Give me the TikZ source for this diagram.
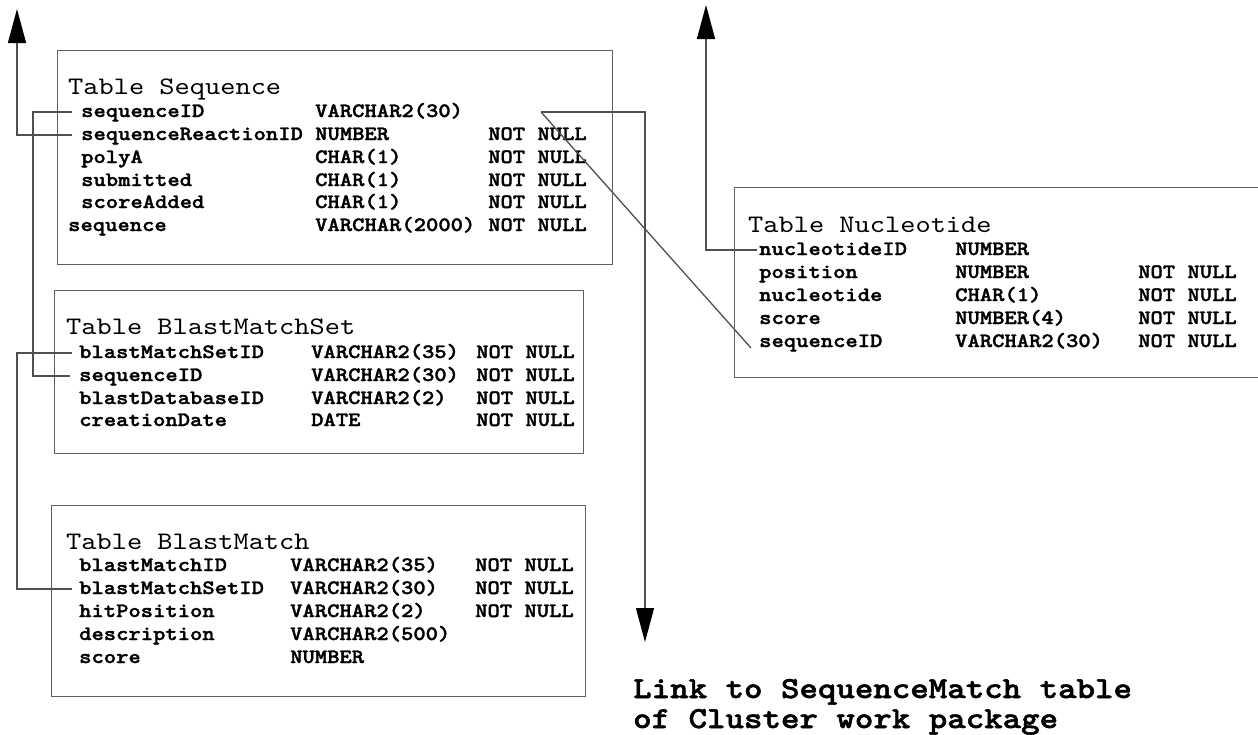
\documentclass[tikz,border=0pt]{standalone}
\usepackage{fontspec}
\newfontfamily\cour{lmmono10-regular.otf}[BoldFont=lmmonolt10-bold.otf, BoldFeatures={FakeBold=1.6}, FakeStretch=1.15]
\usetikzlibrary{arrows.meta}
\definecolor{boxgray}{HTML}{606060}
\definecolor{linegray}{HTML}{505050}
\tikzset{
  fld/.style={anchor=base west, inner sep=0pt, text height=14pt, text depth=4pt,
    font=\cour\bfseries\fontsize{20.4}{24}\selectfont},
  ttl/.style={anchor=base west, inner sep=0pt, font=\cour\fontsize{25.2}{30}\selectfont},
  lnk/.style={anchor=base west, inner sep=0pt, font=\cour\bfseries\fontsize{30.6}{36}\selectfont},
  tbox/.style={draw=boxgray, line width=1.4pt, anchor=north west, inner sep=0pt},
  conn/.style={draw=linegray, line width=1.3pt},
  bigtip/.style={-{Triangle[length=34pt,width=18pt,color=black]}}
}
\begin{document}
\begin{tikzpicture}[x=1pt,y=-1pt]
\useasboundingbox[fill=white] (0,0) rectangle (1258,734);

% ---- Table Sequence
\node[tbox, minimum width=555pt, minimum height=214pt] (boxA) at (57,50) {};
\node[ttl] (At) at (68,94) {Table Sequence};
\node[fld] (A1n) at (81,117) {sequenceID};
\node[fld] (A1t) at (315,117) {VARCHAR2(30)};
\node[fld] (A2n) at (81,140) {sequenceReactionID};
\node[fld] (A2t) at (315,140) {NUMBER};
\node[fld] (A2c) at (488,140) {NOT NULL};
\node[fld] (A3n) at (81,163) {polyA};
\node[fld] (A3t) at (315,163) {CHAR(1)};
\node[fld] (A3c) at (488,163) {NOT NULL};
\node[fld] (A4n) at (81,186) {submitted};
\node[fld] (A4t) at (315,186) {CHAR(1)};
\node[fld] (A4c) at (488,186) {NOT NULL};
\node[fld] (A5n) at (81,208) {scoreAdded};
\node[fld] (A5t) at (315,208) {CHAR(1)};
\node[fld] (A5c) at (488,208) {NOT NULL};
\node[fld] (A6n) at (68,231) {sequence};
\node[fld] (A6t) at (315,231) {VARCHAR(2000)};
\node[fld] (A6c) at (488,231) {NOT NULL};

% ---- Table BlastMatchSet
\node[tbox, minimum width=529pt, minimum height=163pt] (boxB) at (54,290) {};
\node[ttl] (Bt) at (66,334) {Table BlastMatchSet};
\node[fld] (B1n) at (79,358) {blastMatchSetID};
\node[fld] (B1t) at (311,358) {VARCHAR2(35)};
\node[fld] (B1c) at (476,358) {NOT NULL};
\node[fld] (B2n) at (79,381) {sequenceID};
\node[fld] (B2t) at (311,381) {VARCHAR2(30)};
\node[fld] (B2c) at (476,381) {NOT NULL};
\node[fld] (B3n) at (79,404) {blastDatabaseID};
\node[fld] (B3t) at (311,404) {VARCHAR2(2)};
\node[fld] (B3c) at (476,404) {NOT NULL};
\node[fld] (B4n) at (79,426) {creationDate};
\node[fld] (B4t) at (311,426) {DATE};
\node[fld] (B4c) at (476,426) {NOT NULL};

% ---- Table BlastMatch
\node[tbox, minimum width=534pt, minimum height=191pt] (boxC) at (51,505) {};
\node[ttl] (Ct) at (66,549) {Table BlastMatch};
\node[fld] (C1n) at (79,571) {blastMatchID};
\node[fld] (C1t) at (290,571) {VARCHAR2(35)};
\node[fld] (C1c) at (475,571) {NOT NULL};
\node[fld] (C2n) at (79,594) {blastMatchSetID};
\node[fld] (C2t) at (290,594) {VARCHAR2(30)};
\node[fld] (C2c) at (475,594) {NOT NULL};
\node[fld] (C3n) at (79,617) {hitPosition};
\node[fld] (C3t) at (290,617) {VARCHAR2(2)};
\node[fld] (C3c) at (475,617) {NOT NULL};
\node[fld] (C4n) at (79,640) {description};
\node[fld] (C4t) at (290,640) {VARCHAR2(500)};
\node[fld] (C5n) at (79,663) {score};
\node[fld] (C5t) at (290,663) {NUMBER};

% ---- Table Nucleotide
\node[tbox, minimum width=540pt, minimum height=190pt] (boxD) at (734,187) {};
\node[ttl] (Dt) at (748,232) {Table Nucleotide};
\node[fld] (D1n) at (759,255) {nucleotideID};
\node[fld] (D1t) at (955,255) {NUMBER};
\node[fld] (D2n) at (759,278) {position};
\node[fld] (D2t) at (955,278) {NUMBER};
\node[fld] (D2c) at (1138,278) {NOT NULL};
\node[fld] (D3n) at (759,301) {nucleotide};
\node[fld] (D3t) at (955,301) {CHAR(1)};
\node[fld] (D3c) at (1138,301) {NOT NULL};
\node[fld] (D4n) at (759,324) {score};
\node[fld] (D4t) at (955,324) {NUMBER(4)};
\node[fld] (D4c) at (1138,324) {NOT NULL};
\node[fld] (D5n) at (759,347) {sequenceID};
\node[fld] (D5t) at (955,347) {VARCHAR2(30)};
\node[fld] (D5c) at (1138,347) {NOT NULL};

% ---- link text
\node[lnk] (L1) at (633,698) {Link to SequenceMatch table};
\node[lnk] (L2) at (633,728) {of Cluster work package};

% ---- free ends
\coordinate (upA) at (17,9);
\coordinate (upD) at (706,5);
\coordinate (downL) at (645,642);
\coordinate (split) at (541,112);

% ---- connectors
\draw[conn, bigtip] ([xshift=-9pt]A2n.west) -- (A2n.west -| upA) -- (upA);
\draw[conn] ([xshift=-9pt]A1n.west) -- ++(-39,0) |- ([xshift=-9pt]B2n.west);
\draw[conn] ([xshift=-7pt]B1n.west) -- (B1n.west -| upA) |- ([xshift=-7pt]C2n.west);
\draw[conn, bigtip] (split) -| (downL);
\draw[conn] (split) -- ([xshift=-8pt,yshift=-6pt]D5n.west);
\draw[conn, bigtip] ([xshift=-2pt]D1n.west) -- (D1n.west -| upD) -- (upD);
\end{tikzpicture}
\end{document}
